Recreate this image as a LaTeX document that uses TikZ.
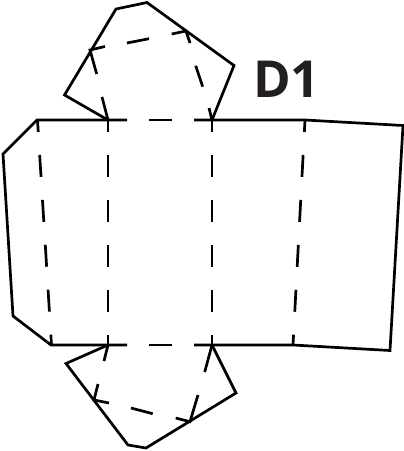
\documentclass[tikz,border=0pt]{standalone}
\usepackage{fontspec}
\setmainfont{Open Sans}
\definecolor{ink}{HTML}{000000}
\definecolor{labelink}{HTML}{231F20}
\tikzset{
  cutline/.style={draw=ink,line width=2.7pt,line join=miter},
  foldline/.style={draw=ink,line width=2.7pt,line cap=butt},
  longfold/.style={foldline,dash pattern=on 22pt off 23pt,dash phase=10pt},
  sheetlabel/.style={font=\fontsize{51}{51}\selectfont\bfseries,text=labelink,inner sep=0pt,anchor=base west}
}
\begin{document}
\begin{tikzpicture}[x=1pt,y=-1pt]
\useasboundingbox (0,0) rectangle (404,451);
% body outline with the solid stretches of the two long edges
\draw[cutline] (127,120) -- (37,120) -- (3,154) -- (13,316) -- (51,345) -- (127,345);
\draw[cutline] (194,120) -- (305,120) -- (403,125.5) -- (390,350.5) -- (293,345) -- (194,345);
\draw[foldline] (149,120) -- (172,120) (149,345) -- (172,345);
% top and bottom flaps
\draw[cutline] (108,120) -- (64.5,95) -- (116,9) -- (147,2.5) -- (234,65.5) -- (212,120);
\draw[cutline] (108,345) -- (66,363.5) -- (128,445) -- (146,448) -- (236,393) -- (212,345);
% long fold lines
\draw[longfold] (37.5,120) -- (51.5,345);
\draw[longfold] (108,120) -- (108,345);
\draw[longfold] (212,120) -- (212,345);
\draw[longfold] (305,120) -- (293,345);
% top flap folds
\draw[foldline] (108,120) -- (102,97) (96.7,74) -- (90,50) -- (105,46.5)
  (127,43) -- (149,38.7) (171.7,34) -- (186,31) -- (190,43)
  (195.7,65.7) -- (202.7,86.7) (209,108) -- (212,120);
% bottom flap folds
\draw[foldline] (108,345) -- (104,361) (98,384) -- (94,400) -- (109,403)
  (131,408) -- (152.7,413.7) (175.7,418) -- (190,421.7) -- (198,395)
  (204.7,372) -- (212,345);
\node[sheetlabel] (sheetname) at (253,97.5) {D1};
\end{tikzpicture}
\end{document}
